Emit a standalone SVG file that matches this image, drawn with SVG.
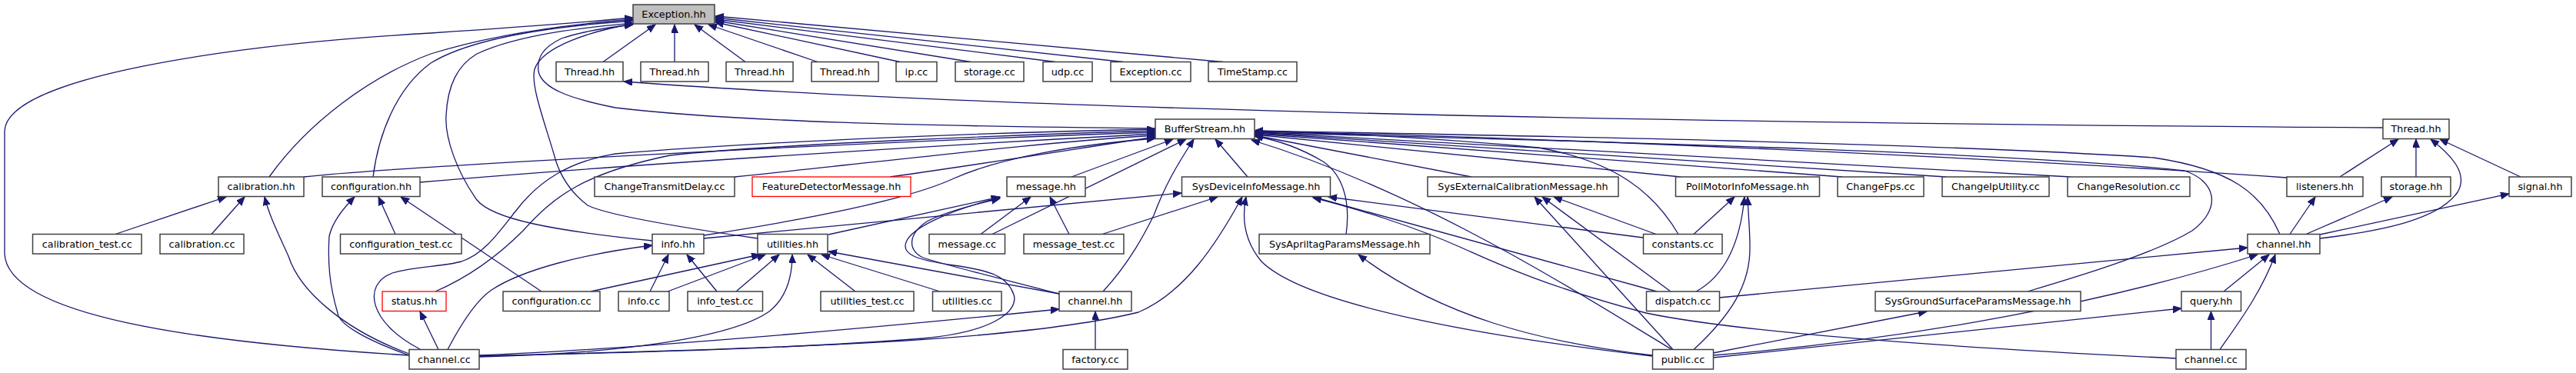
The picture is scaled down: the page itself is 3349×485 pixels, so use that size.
<svg xmlns="http://www.w3.org/2000/svg" width="3349" height="485" viewBox="0 0 3349 485">
<style>
.n rect{fill:#ffffff;stroke:#404040;stroke-width:1.5}
.n.r rect{stroke:#ff0000;stroke-width:1.3}
.n.g rect{fill:#bfbfbf}
.n text{font-family:"DejaVu Sans","Liberation Sans",sans-serif;font-size:12.8px;text-anchor:middle;fill:#000000}
.e path{fill:none;stroke:#191970;stroke-width:1.3;marker-end:url(#a)}
</style>
<defs>
<marker id="a" markerUnits="userSpaceOnUse" markerWidth="12" markerHeight="10" refX="11" refY="4.5" orient="auto">
<path d="M0,0 L11,4.5 L0,9 Z" fill="#191970" stroke="#191970" stroke-width="1"/>
</marker>
</defs>
<rect width="3349" height="485" fill="#ffffff"/>
<g id="edges" class="e">
<path d="M784,80.5 L852,32"/>
<path d="M877,80.5 L877,32"/>
<path d="M969,80.5 L903,32"/>
<path d="M1063,80.5 L921,32"/>
<path d="M1170,80.5 L930,29"/>
<path d="M1262,80.5 L930,27"/>
<path d="M1372,80.5 L930,25"/>
<path d="M1460,80.5 L930,23"/>
<path d="M1590,80.5 L930,21"/>
<path d="M1502,167 C1200,164 950,158 800,140 C740,128 705,115 700,93 C698,75 705,62 730,50 C760,40 795,35 823,32"/>
<path d="M350,230 C400,160 480,100 560,70 C650,42 760,30 823,25"/>
<path d="M485,230 C492,175 515,115 560,82 C620,45 750,32 823,27"/>
<path d="M532,462 C250,445 10,410 6,330 L6,170 C10,100 300,58 560,43 C680,35 780,27 823,23"/>
<path d="M848,313 C720,300 640,285 620,260 C595,225 578,180 580,150 C582,110 595,85 620,70 C680,42 780,34 823,30"/>
<path d="M985,310 C880,295 790,280 764,267 C735,245 725,220 720,200 C705,150 690,110 695,90 C705,60 770,40 823,31"/>
<path d="M3098,166 C2500,162 1400,150 811,106"/>
<path d="M395,230 C500,218 1100,185 1502,172"/>
<path d="M546,237 C800,215 1200,190 1502,174"/>
<path d="M955,230 C1150,210 1350,185 1502,176"/>
<path d="M1157,230 C1300,210 1420,190 1502,178"/>
<path d="M566,379 C610,360 650,330 680,300 C720,255 760,225 871,202 C1000,188 1300,176 1502,170"/>
<path d="M546,454 C480,420 470,370 510,355 C540,346 575,347 600,340 C630,330 650,300 670,275 C700,235 740,210 800,200 C1000,183 1300,172 1502,168"/>
<path d="M915,306 C1050,285 1180,260 1240,232 C1300,205 1400,188 1502,180"/>
<path d="M1393,230 L1525,181"/>
<path d="M1290,304.5 L1542,181"/>
<path d="M1434,379 C1470,340 1490,300 1500,280 C1515,240 1530,215 1552,181"/>
<path d="M1622,230 L1580,181"/>
<path d="M1750,304.5 C1755,270 1750,230 1720,210 C1690,192 1660,182 1631,177"/>
<path d="M2182,304.5 C2150,250 2100,210 2000,192 C1850,178 1700,172 1631,170"/>
<path d="M2173,454 C2050,380 1850,250 1627,182"/>
<path d="M1913,230 L1631,176"/>
<path d="M2185,230 L1631,175"/>
<path d="M2395,230 L1631,174"/>
<path d="M2530,230 L1631,173"/>
<path d="M2692,230 L1631,172"/>
<path d="M2973,231 C2600,205 2000,178 1631,171"/>
<path d="M2964,304.5 C2940,250 2900,220 2800,205 C2500,185 1900,175 1631,170"/>
<path d="M2636,379 C2700,360 2800,330 2850,300 C2890,270 2880,235 2840,222 C2600,195 1900,180 1631,172"/>
<path d="M150,304.5 L294,256"/>
<path d="M275,304.5 L318,256"/>
<path d="M532,460 C450,430 390,380 375,333 C360,300 350,280 344,256"/>
<path d="M532,462 C470,440 440,420 439,407 C428,370 426,340 428,307 C432,290 445,272 461,256"/>
<path d="M514,304.5 L492,256"/>
<path d="M704,379 L521,256"/>
<path d="M570,454.5 L546,405"/>
<path d="M582,454.5 C600,420 620,390 639,377 C680,350 760,330 848,319"/>
<path d="M845,379 L869,331"/>
<path d="M932,379 L893,331"/>
<path d="M768,379 L988,331"/>
<path d="M868,379 L995,331"/>
<path d="M957,379 L1013,331"/>
<path d="M623,464 C800,460 950,440 1000,405 C1025,385 1030,355 1030,331"/>
<path d="M1112,379 L1050,331"/>
<path d="M1222,379 L1068,331"/>
<path d="M1377,382 L1077,327"/>
<path d="M1077,305 L1300,256"/>
<path d="M1275,304.5 L1340,256"/>
<path d="M1390,304.5 L1365,256"/>
<path d="M623,463 C850,458 1050,452 1200,440 C1290,432 1325,405 1318,383 C1310,360 1290,352 1240,345 C1190,338 1172,330 1178,315 C1185,295 1240,272 1300,257"/>
<path d="M1377,382 C1300,362 1230,345 1200,335 C1180,325 1180,305 1205,288 C1230,275 1270,265 1300,258"/>
<path d="M915,310 L1536,251"/>
<path d="M1433,304.5 L1583,256"/>
<path d="M623,463 C900,455 1300,450 1480,406 C1540,380 1580,320 1615,256"/>
<path d="M2148,463 C1950,440 1700,400 1640,340 C1615,310 1615,280 1620,256"/>
<path d="M2136,309 L1727,256"/>
<path d="M2154,379 L1707,256"/>
<path d="M2829,466 C2500,450 2250,430 2140,407 C2000,370 1930,335 1900,322 C1840,295 1760,270 1707,257"/>
<path d="M623,462 C800,455 1100,430 1377,402"/>
<path d="M1424,454.5 L1424,405"/>
<path d="M2148,462 C2000,445 1870,410 1766,331"/>
<path d="M2175,454.5 L1995,256"/>
<path d="M2172,379 L2005,256"/>
<path d="M2153,304.5 L2020,256"/>
<path d="M2202,304.5 L2255,256"/>
<path d="M2205,379 C2240,360 2262,320 2268,256"/>
<path d="M2202,454.5 C2250,410 2276,370 2275,320 C2275,300 2273,280 2272,256"/>
<path d="M2227,459 L2505,405"/>
<path d="M2227,462 C2500,440 2750,390 2935,331"/>
<path d="M2227,465 L2836,401"/>
<path d="M2235,387 L2922,322"/>
<path d="M3042,230 L3118,181"/>
<path d="M3141,230 L3141,181"/>
<path d="M3277,230 L3172,181"/>
<path d="M3016,310 C3100,300 3170,285 3195,250 C3210,225 3185,200 3160,181"/>
<path d="M2977,304.5 L3010,256"/>
<path d="M2998,304.5 L3110,256"/>
<path d="M3016,305 L3262,252"/>
<path d="M2891,379 L2950,331"/>
<path d="M2886,454.5 C2910,420 2940,380 2958,331"/>
<path d="M2874.5,454.5 L2874.5,405"/>
</g>
<g id="n_exc" class="n g"><rect x="823" y="6" width="106" height="25"/><text x="876" y="23">Exception.hh</text></g>
<g id="n_ta" class="n"><rect x="723" y="80.5" width="87" height="25.5"/><text x="766.5" y="97.7">Thread.hh</text></g>
<g id="n_tb" class="n"><rect x="833" y="80.5" width="88" height="25.5"/><text x="877" y="97.7">Thread.hh</text></g>
<g id="n_tc" class="n"><rect x="944" y="80.5" width="87" height="25.5"/><text x="987.5" y="97.7">Thread.hh</text></g>
<g id="n_td" class="n"><rect x="1055" y="80.5" width="87" height="25.5"/><text x="1098.5" y="97.7">Thread.hh</text></g>
<g id="n_ip" class="n"><rect x="1165" y="80.5" width="53" height="25.5"/><text x="1191.5" y="97.7">ip.cc</text></g>
<g id="n_storcc" class="n"><rect x="1242" y="80.5" width="89" height="25.5"/><text x="1286.5" y="97.7">storage.cc</text></g>
<g id="n_udp" class="n"><rect x="1356" y="80.5" width="64" height="25.5"/><text x="1388" y="97.7">udp.cc</text></g>
<g id="n_exccc" class="n"><rect x="1444" y="80.5" width="104" height="25.5"/><text x="1496" y="97.7">Exception.cc</text></g>
<g id="n_ts" class="n"><rect x="1571" y="80.5" width="115" height="25.5"/><text x="1628.5" y="97.7">TimeStamp.cc</text></g>
<g id="n_bs" class="n"><rect x="1502" y="155" width="129" height="25.5"/><text x="1566.5" y="172.2">BufferStream.hh</text></g>
<g id="n_tr" class="n"><rect x="3098" y="155" width="86" height="25.5"/><text x="3141" y="172.2">Thread.hh</text></g>
<g id="n_calh" class="n"><rect x="284" y="230" width="111" height="25.5"/><text x="339.5" y="247.2">calibration.hh</text></g>
<g id="n_confh" class="n"><rect x="419" y="230" width="127" height="25.5"/><text x="482.5" y="247.2">configuration.hh</text></g>
<g id="n_ctd" class="n"><rect x="773" y="230" width="182" height="25.5"/><text x="864" y="247.2">ChangeTransmitDelay.cc</text></g>
<g id="n_fdm" class="n r"><rect x="978" y="230" width="206" height="25.5"/><text x="1081" y="247.2">FeatureDetectorMessage.hh</text></g>
<g id="n_msgh" class="n"><rect x="1309" y="230" width="102" height="25.5"/><text x="1360" y="247.2">message.hh</text></g>
<g id="n_sdi" class="n"><rect x="1536.5" y="230" width="193" height="25.5"/><text x="1633" y="247.2">SysDeviceInfoMessage.hh</text></g>
<g id="n_sec" class="n"><rect x="1856" y="230" width="248" height="25.5"/><text x="1980" y="247.2">SysExternalCalibrationMessage.hh</text></g>
<g id="n_pmi" class="n"><rect x="2178.5" y="230" width="187" height="25.5"/><text x="2272" y="247.2">PollMotorInfoMessage.hh</text></g>
<g id="n_cf" class="n"><rect x="2389" y="230" width="112" height="25.5"/><text x="2445" y="247.2">ChangeFps.cc</text></g>
<g id="n_ciu" class="n"><rect x="2525" y="230" width="139" height="25.5"/><text x="2594.5" y="247.2">ChangeIpUtility.cc</text></g>
<g id="n_cr" class="n"><rect x="2688" y="230" width="159" height="25.5"/><text x="2767.5" y="247.2">ChangeResolution.cc</text></g>
<g id="n_lis" class="n"><rect x="2973" y="230" width="99" height="25.5"/><text x="3022.5" y="247.2">listeners.hh</text></g>
<g id="n_storh" class="n"><rect x="3096" y="230" width="90" height="25.5"/><text x="3141" y="247.2">storage.hh</text></g>
<g id="n_sig" class="n"><rect x="3262" y="230" width="81" height="25.5"/><text x="3302.5" y="247.2">signal.hh</text></g>
<g id="n_calt" class="n"><rect x="42.5" y="304.5" width="141.5" height="25.5"/><text x="113.25" y="321.7">calibration_test.cc</text></g>
<g id="n_calc" class="n"><rect x="208" y="304.5" width="109" height="25.5"/><text x="262.5" y="321.7">calibration.cc</text></g>
<g id="n_conft" class="n"><rect x="442.5" y="304.5" width="157.5" height="25.5"/><text x="521.25" y="321.7">configuration_test.cc</text></g>
<g id="n_info" class="n"><rect x="848" y="304.5" width="67" height="25.5"/><text x="881.5" y="321.7">info.hh</text></g>
<g id="n_util" class="n"><rect x="985" y="304.5" width="91" height="25.5"/><text x="1030.5" y="321.7">utilities.hh</text></g>
<g id="n_msgc" class="n"><rect x="1208" y="304.5" width="98.5" height="25.5"/><text x="1257.25" y="321.7">message.cc</text></g>
<g id="n_msgt" class="n"><rect x="1331" y="304.5" width="130" height="25.5"/><text x="1396" y="321.7">message_test.cc</text></g>
<g id="n_sap" class="n"><rect x="1637" y="304.5" width="222" height="25.5"/><text x="1748" y="321.7">SysApriltagParamsMessage.hh</text></g>
<g id="n_const" class="n"><rect x="2136.5" y="304.5" width="102.5" height="25.5"/><text x="2187.75" y="321.7">constants.cc</text></g>
<g id="n_chhb" class="n"><rect x="2922" y="304.5" width="94" height="25.5"/><text x="2969" y="321.7">channel.hh</text></g>
<g id="n_status" class="n r"><rect x="497" y="379" width="83" height="25.5"/><text x="538.5" y="396.2">status.hh</text></g>
<g id="n_confc" class="n"><rect x="654" y="379" width="126" height="25.5"/><text x="717" y="396.2">configuration.cc</text></g>
<g id="n_infoc" class="n"><rect x="804" y="379" width="66" height="25.5"/><text x="837" y="396.2">info.cc</text></g>
<g id="n_infot" class="n"><rect x="894" y="379" width="97.5" height="25.5"/><text x="942.75" y="396.2">info_test.cc</text></g>
<g id="n_utilt" class="n"><rect x="1067" y="379" width="121" height="25.5"/><text x="1127.5" y="396.2">utilities_test.cc</text></g>
<g id="n_utilc" class="n"><rect x="1212.5" y="379" width="89.5" height="25.5"/><text x="1257.25" y="396.2">utilities.cc</text></g>
<g id="n_chha" class="n"><rect x="1377" y="379" width="94" height="25.5"/><text x="1424" y="396.2">channel.hh</text></g>
<g id="n_disp" class="n"><rect x="2140.5" y="379" width="95" height="25.5"/><text x="2188" y="396.2">dispatch.cc</text></g>
<g id="n_sgs" class="n"><rect x="2438" y="379" width="267" height="25.5"/><text x="2571.5" y="396.2">SysGroundSurfaceParamsMessage.hh</text></g>
<g id="n_query" class="n"><rect x="2836" y="379" width="77.5" height="25.5"/><text x="2874.75" y="396.2">query.hh</text></g>
<g id="n_chca" class="n"><rect x="532" y="454.5" width="91" height="25.5"/><text x="577.5" y="471.7">channel.cc</text></g>
<g id="n_fact" class="n"><rect x="1382" y="454.5" width="84" height="25.5"/><text x="1424" y="471.7">factory.cc</text></g>
<g id="n_pub" class="n"><rect x="2148.5" y="454.5" width="79" height="25.5"/><text x="2188" y="471.7">public.cc</text></g>
<g id="n_chcb" class="n"><rect x="2829" y="454.5" width="91" height="25.5"/><text x="2874.5" y="471.7">channel.cc</text></g>
</svg>
